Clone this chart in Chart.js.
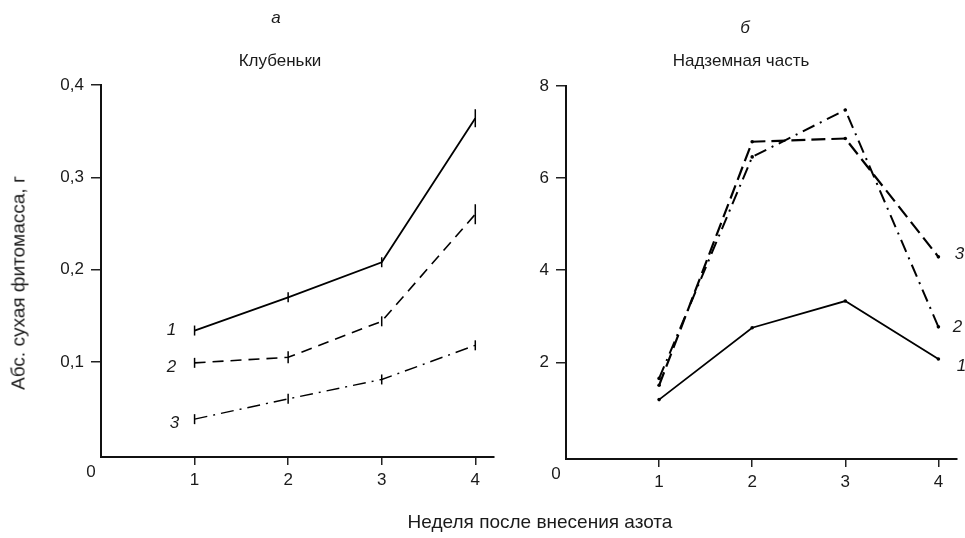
<!DOCTYPE html>
<html><head><meta charset="utf-8">
<script src="https://cdn.jsdelivr.net/npm/chart.js@4"></script>
<style>
html,body{margin:0;padding:0;background:#fff}
body{width:965px;height:538px;position:relative;overflow:hidden;font-family:"Liberation Sans",Arial,sans-serif;color:#1a1a1a}
.t{position:absolute;font-size:17px;white-space:nowrap;line-height:1;font-weight:normal}
canvas{position:absolute;top:0}
</style></head>
<body>
<canvas id="ca" width="520" height="538" style="left:0"></canvas>
<canvas id="cb" width="445" height="538" style="left:520px"></canvas>
<div class="t" style="left:276px;top:17px;transform:translate(-50%,-50%);font-style:italic">а</div>
<div class="t" style="left:280px;top:60px;transform:translate(-50%,-50%)">Клубеньки</div>
<div class="t" style="left:745px;top:27px;transform:translate(-50%,-50%);font-style:italic">б</div>
<div class="t" style="left:741px;top:60px;transform:translate(-50%,-50%)">Надземная часть</div>
<div class="t" style="left:18px;top:283px;font-size:19px;transform:translate(-50%,-50%) rotate(-90deg)">Абс. сухая фитомасса, г</div>
<div class="t" style="left:540px;top:521px;font-size:19px;transform:translate(-50%,-50%)">Неделя после внесения азота</div>
<script>
// ---- data ----
const weeks = [1, 2, 3, 4];
const xTicks = [1, 2, 3, 4];
// panel а: Клубеньки, г
const nodules1 = [0.134, 0.170, 0.208, 0.364];
const nodules2 = [0.099, 0.105, 0.144, 0.260];
const nodules3 = [0.038, 0.060, 0.081, 0.118];
const yTicksA = [0.1, 0.2, 0.3, 0.4];
// panel б: Надземная часть, г
const shoots1 = [1.19, 2.75, 3.33, 2.07];
const shoots3 = [1.50, 6.79, 6.86, 4.29];
const shoots2 = [1.65, 6.46, 7.48, 2.77];
const yTicksB = [2, 4, 6, 8];

const FONT = '"Liberation Sans", Arial, sans-serif';
const INK = '#1a1a1a';
const pts = v => weeks.map((w, i) => ({x: w, y: v[i]}));

const tagPlugin = {
  id: 'tags',
  afterDatasetsDraw(chart) {
    const ctx = chart.ctx;
    ctx.save();
    ctx.fillStyle = INK;
    ctx.textAlign = 'center';
    ctx.textBaseline = 'middle';
    chart.data.datasets.forEach((ds, i) => {
      if (!ds.tag) return;
      const meta = chart.getDatasetMeta(i);
      const p = meta.data[ds.tagAt === 'end' ? meta.data.length - 1 : 0];
      ctx.font = 'italic 17px ' + FONT;
      ctx.fillText(ds.tag, p.x + ds.tagDx, p.y + ds.tagDy);
    });
    const xs = chart.scales.x, ys = chart.scales.y;
    ctx.font = '17px ' + FONT;
    ctx.fillText('0', xs.getPixelForValue(0) - 10, ys.bottom + 15);
    ctx.restore();
  }
};

function makeChart(id, datasets, cfg) {
  return new Chart(document.getElementById(id), {
    type: 'line',
    data: {datasets},
    plugins: [tagPlugin],
    options: {
      responsive: false,
      animation: false,
      devicePixelRatio: 1,
      layout: {padding: {left: 0, top: cfg.top, right: cfg.right, bottom: 0}},
      plugins: {legend: {display: false}, tooltip: {enabled: false}},
      elements: {line: {tension: 0, borderColor: '#000', fill: false}},
      scales: {
        x: {
          type: 'linear', min: cfg.xmin, max: 4.2,
          afterBuildTicks: s => { s.ticks = xTicks.map(v => ({value: v})); },
          afterFit: s => { s.height = cfg.xh; },
          grid: {drawOnChartArea: false, drawTicks: true, tickLength: 8, color: '#222', lineWidth: 1.5},
          border: {display: true, color: '#111', width: 2},
          ticks: {color: INK, font: {size: 17, family: FONT}, padding: 5, maxRotation: 0, autoSkip: false}
        },
        y: {
          type: 'linear', min: cfg.ymin, max: cfg.ymax,
          afterBuildTicks: s => { s.ticks = cfg.yTicks.map(v => ({value: v})); },
          afterFit: s => { s.width = cfg.yw; },
          grid: {drawOnChartArea: false, drawTicks: true, tickLength: 10, color: '#222', lineWidth: 1.5},
          border: {display: true, color: '#111', width: 2},
          ticks: {color: INK, font: {size: 17, family: FONT}, padding: 7,
                  callback: v => String(v).replace('.', ',')}
        }
      }
    }
  });
}

const bar = {pointStyle: 'line', rotation: 90, pointBorderColor: '#000', pointBorderWidth: 1.5, pointBackgroundColor: '#000'};

makeChart('ca', [
  Object.assign({data: pts(nodules1), borderWidth: 1.8, pointRadius: [5, 5, 5, 9], tag: '1', tagAt: 'start', tagDx: -23, tagDy: 0}, bar),
  Object.assign({data: pts(nodules2), borderWidth: 1.6, borderDash: [11, 7], pointRadius: [5, 6, 5, 10], tag: '2', tagAt: 'start', tagDx: -23, tagDy: 4}, bar),
  Object.assign({data: pts(nodules3), borderWidth: 1.4, borderDash: [13, 6, 2, 6], pointRadius: [5, 5, 5, 5], tag: '3', tagAt: 'start', tagDx: -20, tagDy: 4}, bar)
], {top: 85, right: 26, xh: 81, yw: 101, xmin: 0, ymin: -0.003, ymax: 0.4, yTicks: yTicksA});

const dot = {pointStyle: 'circle', pointRadius: 1.8, pointBorderWidth: 0, pointBackgroundColor: '#000'};

makeChart('cb', [
  Object.assign({data: pts(shoots1), borderWidth: 1.8, tag: '1', tagAt: 'end', tagDx: 23, tagDy: 7}, dot),
  Object.assign({data: pts(shoots2), borderWidth: 2, borderDash: [13, 6, 2, 6], tag: '2', tagAt: 'end', tagDx: 19, tagDy: 0}, dot),
  Object.assign({data: pts(shoots3), borderWidth: 2.2, borderDash: [14, 6], tag: '3', tagAt: 'end', tagDx: 21, tagDy: -3}, dot)
], {top: 86, right: 8, xh: 79, yw: 46, xmin: 0, ymin: -0.1, ymax: 8, yTicks: yTicksB});
</script>
</body></html>
